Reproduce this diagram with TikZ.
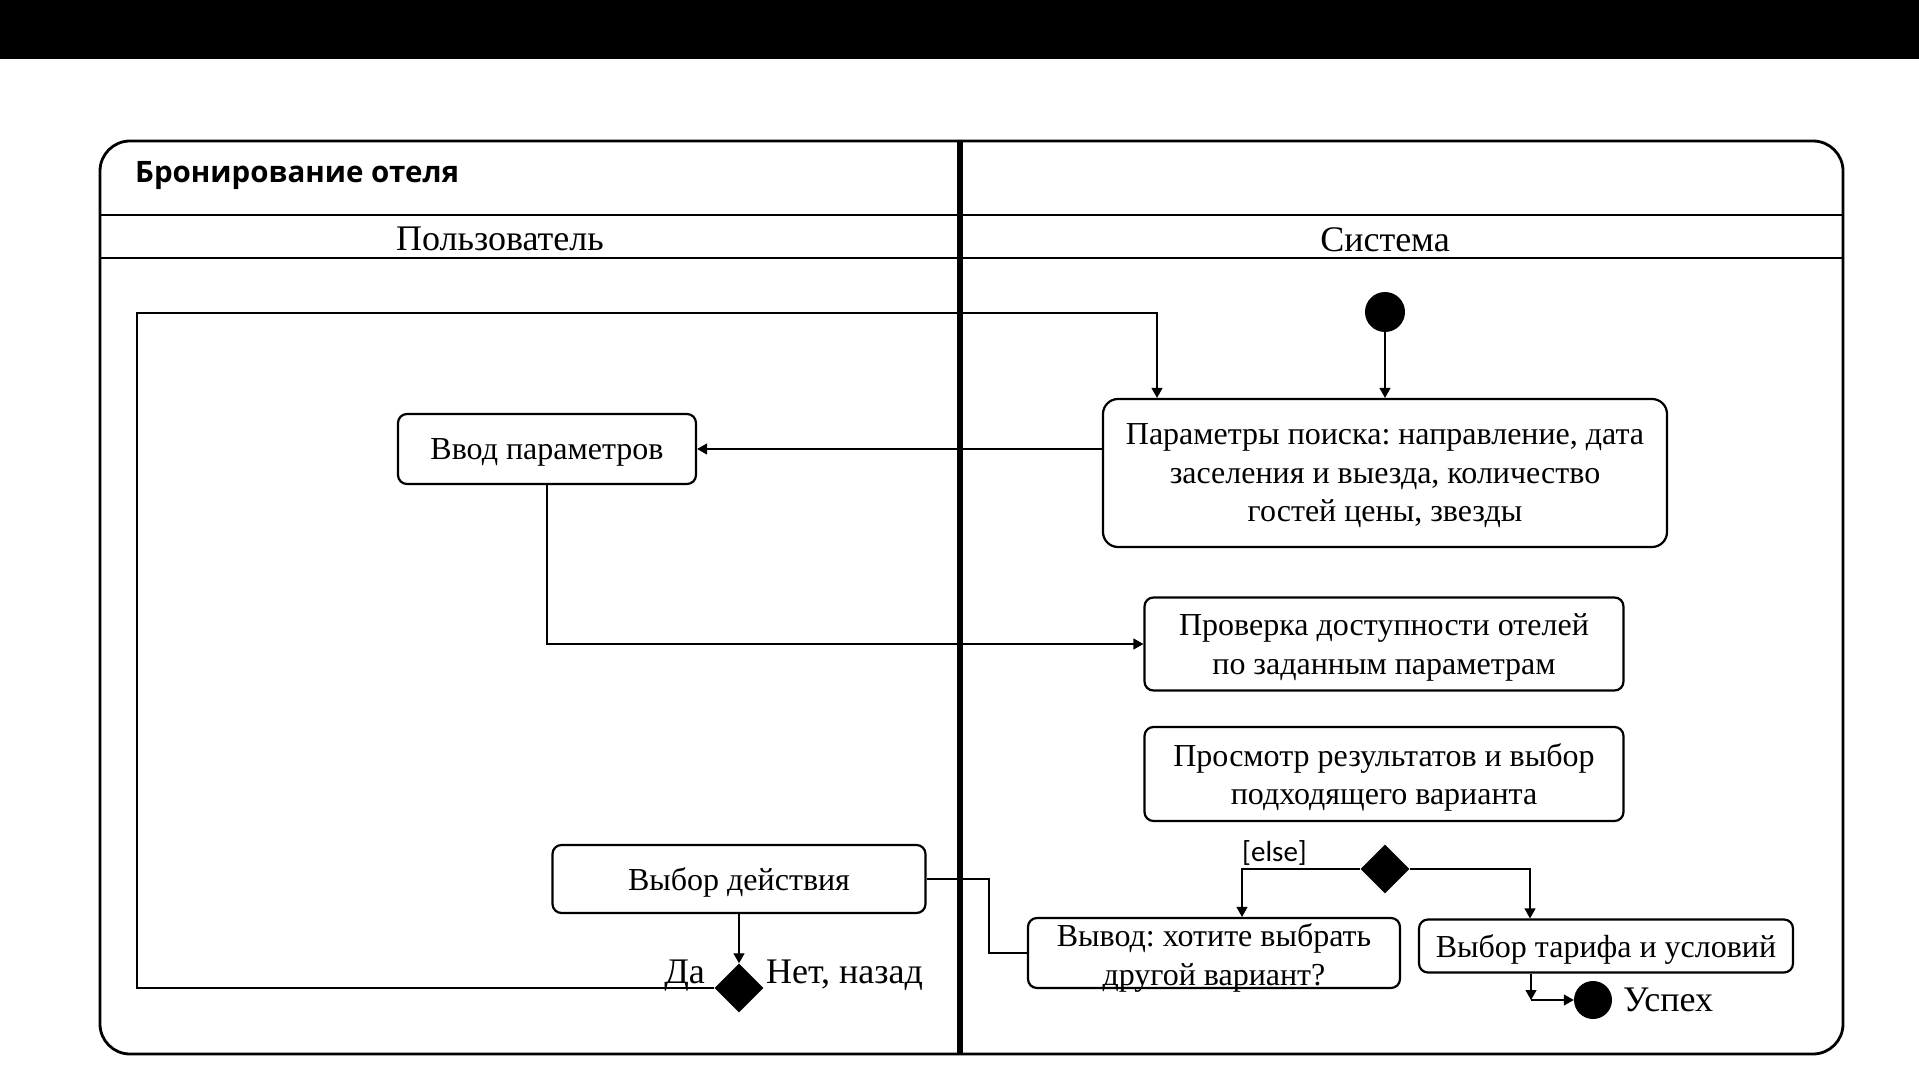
\documentclass[tikz,border=0pt]{standalone}
\usepackage{fontspec}
\setmainfont{Liberation Serif}
\newfontfamily\titlefont{Open Sans}
\newfontfamily\guardfont{Carlito}
\usetikzlibrary{arrows.meta,shapes.geometric}
\frenchspacing

\begin{document}
\begin{tikzpicture}[x=1pt,y=-1pt,>={Triangle[length=10pt,width=11pt]},
                    flow/.style={line width=1.3pt},
                    act node/.style={draw,rounded corners=9pt,line width=2.2pt,align=center,
                      inner sep=0pt,text depth=-8pt,font=\fontsize{32}{38.5}\selectfont},
                    dec node/.style={diamond,fill,inner sep=0pt,minimum width=49pt,minimum height=49pt},
                    txt node/.style={inner sep=0pt,font=\fontsize{32}{38.5}\selectfont},
                    big txt/.style={inner sep=0pt,font=\fontsize{36}{42}\selectfont}]

  \useasboundingbox (0,0) rectangle (1919,1078);
  \fill (0,0) rectangle (1919,59);
  \draw[line width=2.8pt,rounded corners=30pt] (100,141) rectangle (1843,1054);
  \draw[line width=1.5pt] (100,215) -- (1843,215) (100,258) -- (1843,258);
  \draw[line width=5.5pt] (960,141) -- (960,1054);

  \node[anchor=base west,inner sep=0pt,font=\titlefont\bfseries\fontsize{29.5}{34}\selectfont] (title) at (135,183) {Бронирование отеля};
  \node[big txt] (userlane) at (500,239) {Пользователь};
  \node[big txt] (syslane) at (1385,240) {Система};

  \node[circle,fill,inner sep=0pt,minimum size=40pt] (start) at (1385,312) {};
  \node[act node,rounded corners=15pt,minimum width=564pt,minimum height=148pt] (params) at (1385,473)
    {Параметры поиска: направление, дата\\заселения и выезда, количество\\гостей цены, звезды};
  \node[act node,minimum width=298pt,minimum height=70pt] (input) at (547,449) {Ввод параметров};
  \node[act node,minimum width=479pt,minimum height=93pt] (check) at (1384,644)
    {Проверка доступности отелей\\по заданным параметрам};
  \node[act node,minimum width=479pt,minimum height=94pt] (browse) at (1384,774)
    {Просмотр результатов и выбор\\подходящего варианта};
  \node[dec node] (branch) at (1385,869) {};
  \node[anchor=base west,inner sep=0pt,font=\guardfont\fontsize{29}{34}\selectfont] (else) at (1242,861) {[else]};
  \node[act node,minimum width=372pt,minimum height=70pt,
        label={[txt node,align=center,yshift=-5pt]center:Вывод: хотите выбрать\\другой вариант?}] (again) at (1214,953) {};
  \node[act node,minimum width=374pt,minimum height=53pt] (tariff) at (1606,946) {Выбор тарифа и условий};
  \node[act node,minimum width=373pt,minimum height=68pt] (action) at (739,879) {Выбор действия};
  \node[dec node] (answer) at (739,988) {};
  \node[big txt,anchor=base east] (yes) at (705,983) {Да};
  \node[big txt,anchor=base west] (no) at (766,983) {Нет, назад};
  \coordinate (turn) at (1531,1000);
  \node[circle,fill,inner sep=0pt,minimum size=38pt] (finish) at (1593,1000) {};
  \node[big txt,anchor=base west] (success) at (1623,1011) {Успех};

  \path[flow,->]
    (start) edge (params)
    (params.west |- input) edge (input.east)
    (action) edge (answer)
    (tariff.south -| turn) edge (turn)
    (turn) edge (finish);
  \draw[flow,->] (answer.west) -| (137,313) -| ([xshift=-228pt]params.north);
  \draw[flow,->] (input.south) |- (check.west);
  \draw[flow,->] (branch.west) -| ([xshift=28pt]again.north);
  \draw[flow,->] (branch.east) -| ([xshift=-76pt]tariff.north);
  \draw[flow] (action.east) -| (989,953) -- (again.west);
\end{tikzpicture}
\end{document}
